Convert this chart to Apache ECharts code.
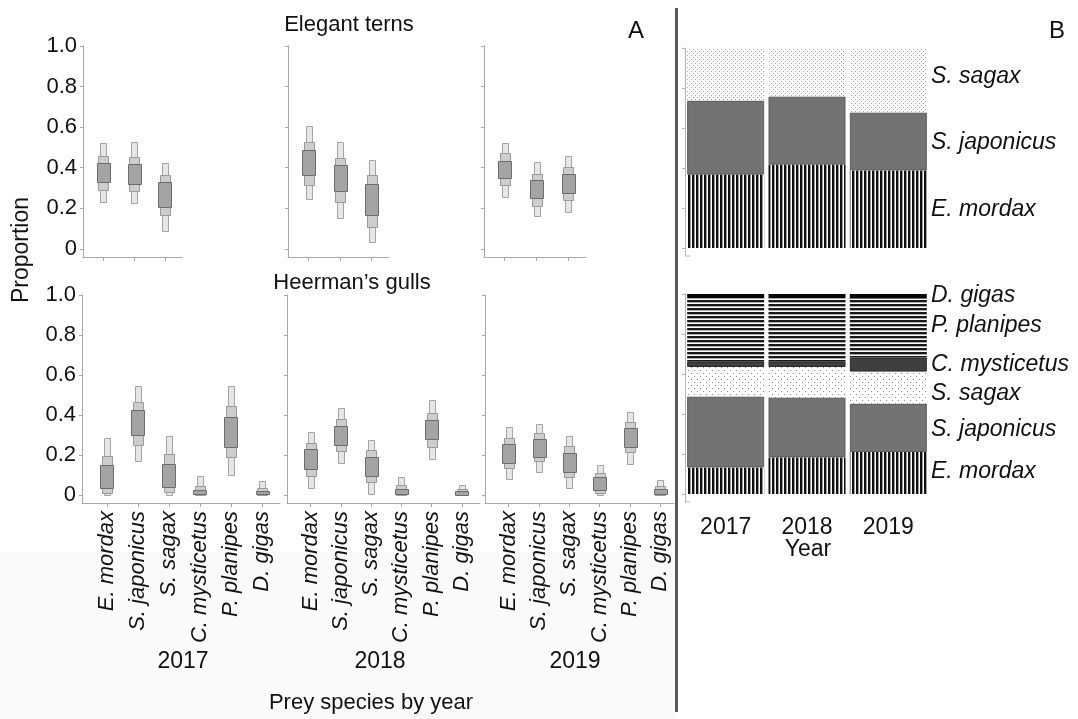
<!DOCTYPE html>
<html><head><meta charset="utf-8">
<script src="https://cdn.jsdelivr.net/npm/echarts@6/dist/echarts.min.js"></script>
<style>html,body{margin:0;padding:0;background:#fff}#c{width:1078px;height:719px}</style>
</head><body><div id="c"></div>
<script>
// ---------- DATA ----------
const years = ['2017', '2018', '2019'];
const ternSpecies = ['E. mordax', 'S. japonicus', 'S. sagax'];
const gullSpecies = ['E. mordax', 'S. japonicus', 'S. sagax', 'C. mysticetus', 'P. planipes', 'D. gigas'];
const yTicks = [0, 0.2, 0.4, 0.6, 0.8, 1.0];

// Panel A rows: [outerLo, midLo, innerLo, innerHi, midHi, outerHi]
const tern2017 = [[0.23,0.29,0.327,0.423,0.46,0.522],[0.224,0.284,0.317,0.416,0.454,0.526],[0.085,0.167,0.211,0.332,0.366,0.421]];
const tern2018 = [[0.244,0.317,0.362,0.486,0.529,0.605],[0.149,0.232,0.282,0.411,0.449,0.526],[0.03,0.111,0.163,0.318,0.366,0.436]];
const tern2019 = [[0.26,0.314,0.348,0.434,0.471,0.524],[0.163,0.215,0.251,0.341,0.371,0.428],[0.18,0.241,0.273,0.368,0.403,0.456]];
const gull2017 = [[0.0,0.012,0.033,0.148,0.197,0.283],[0.172,0.252,0.298,0.423,0.467,0.545],[0.0,0.012,0.037,0.153,0.203,0.297],[0.0,0.002,0.005,0.025,0.047,0.093],[0.102,0.19,0.242,0.39,0.445,0.545],[0.0,0.002,0.004,0.02,0.037,0.072]];
const gull2018 = [[0.035,0.095,0.132,0.23,0.262,0.313],[0.157,0.22,0.247,0.343,0.378,0.433],[0.008,0.065,0.097,0.192,0.225,0.277],[0.0,0.002,0.006,0.032,0.05,0.092],[0.18,0.237,0.278,0.375,0.408,0.473],[0.0,0.002,0.004,0.022,0.032,0.052]];
const gull2019 = [[0.078,0.136,0.164,0.257,0.285,0.34],[0.116,0.169,0.19,0.28,0.31,0.355],[0.035,0.09,0.116,0.211,0.244,0.295],[0.0,0.008,0.028,0.091,0.108,0.148],[0.154,0.214,0.24,0.333,0.365,0.413],[0.0,0.002,0.004,0.028,0.045,0.075]];

// Panel B proportions by year
const ternDiet = {
  'E. mordax':    [0.367, 0.417, 0.388],
  'S. japonicus': [0.370, 0.341, 0.290],
  'S. sagax':     [0.263, 0.242, 0.322]
};
const gullDiet = {
  'E. mordax':     [0.133, 0.183, 0.210],
  'S. japonicus':  [0.355, 0.300, 0.242],
  'S. sagax':      [0.147, 0.152, 0.160],
  'C. mysticetus': [0.028, 0.028, 0.070],
  'P. planipes':   [0.317, 0.317, 0.295],
  'D. gigas':      [0.020, 0.020, 0.023]
};

// ---------- PATTERNS ----------
function tile(w, h, draw) {
  const c = document.createElement('canvas'); c.width = w; c.height = h;
  const g = c.getContext('2d'); g.fillStyle = '#fff'; g.fillRect(0, 0, w, h); draw(g);
  return { image: c, repeat: 'repeat' };
}
const vStripes = tile(4, 4, g => { g.fillStyle = '#111'; g.fillRect(0, 0, 2, 4); g.fillStyle = '#9a9a9a'; g.fillRect(2, 0, 1, 4); });
const hStripes = tile(4, 4, g => { g.fillStyle = '#1a1a1a'; g.fillRect(0, 0, 4, 2); g.fillStyle = '#aaa'; g.fillRect(0, 2, 4, 1); });
const dotsDense = tile(4, 4, g => { g.fillStyle = '#a0a0a0'; g.fillRect(1, 1, 1, 1); g.fillRect(3, 3, 1, 1); });
const dotsSparse = tile(6, 6, g => { g.fillStyle = '#8a8a8a'; g.fillRect(1, 1, 1, 1); g.fillRect(4, 4, 1, 1); });

const styleMap = {
  'E. mordax':     { color: vStripes },
  'S. japonicus':  { color: '#737373', borderColor: '#5c5c5c', borderWidth: 1 },
  'C. mysticetus': { color: '#3f3f3f', borderColor: '#2a2a2a', borderWidth: 1 },
  'P. planipes':   { color: hStripes },
  'D. gigas':      { color: '#050505' }
};

// ---------- LAYOUT ----------
const FONT = 'Liberation Sans, Arial, sans-serif';
const panelsA = [
  { data: tern2017, names: ternSpecies, left: 83,  top: 46,  width: 99,  height: 211, xmin: -0.65, xmax: 2.55, first: true,  labels: false },
  { data: tern2018, names: ternSpecies, left: 288, top: 46,  width: 101, height: 211, xmin: -0.65, xmax: 2.55, first: false, labels: false },
  { data: tern2019, names: ternSpecies, left: 484, top: 46,  width: 102, height: 211, xmin: -0.65, xmax: 2.55, first: false, labels: false },
  { data: gull2017, names: gullSpecies, left: 82,  top: 295, width: 198, height: 208, xmin: -0.8,  xmax: 5.58, first: true,  labels: true },
  { data: gull2018, names: gullSpecies, left: 287, top: 295, width: 193, height: 208, xmin: -0.78, xmax: 5.6,  first: false, labels: true },
  { data: gull2019, names: gullSpecies, left: 485, top: 295, width: 189, height: 208, xmin: -0.78, xmax: 5.45, first: false, labels: true }
];

const grid = [], xAxis = [], yAxis = [], series = [];
const axisGray = '#a8a8a8';

function renderBox(params, api) {
  const x = api.value(0);
  const v = [1, 2, 3, 4, 5, 6].map(i => api.value(i));
  const rect = (lo, hi, w, fill, stroke) => {
    const pHi = api.coord([x, hi]), pLo = api.coord([x, lo]);
    return { type: 'rect', shape: { x: Math.round(pHi[0] - w / 2) + 0.5, y: Math.round(pHi[1]) + 0.5, width: w, height: Math.max(1, Math.round(pLo[1] - pHi[1])) },
             style: { fill: fill, stroke: stroke, lineWidth: 1 } };
  };
  return { type: 'group', children: [
    rect(v[0], v[5], 6, '#e6e6e6', '#a4a4a4'),
    rect(v[1], v[4], 10, '#cdcdcd', '#9a9a9a'),
    rect(v[2], v[3], 13, '#a4a4a4', '#6c6c6c')
  ] };
}

panelsA.forEach((p, i) => {
  grid.push({ left: p.left, top: p.top, width: p.width, height: p.height, outerBoundsMode: 'none', containLabel: false });
  const idx = p.names.map((_, k) => k);
  xAxis.push({
    type: 'value', gridIndex: i, min: p.xmin, max: p.xmax, splitLine: { show: false },
    axisLine: { show: true, onZero: false, lineStyle: { color: axisGray, width: 1 } },
    axisTick: { show: true, customValues: idx, length: 4, lineStyle: { color: axisGray } },
    axisLabel: { show: p.labels, customValues: idx, formatter: v => p.names[Math.round(v)] || '', rotate: 90, margin: 8,
                 fontFamily: FONT, fontSize: 22, fontStyle: 'italic', color: '#111' }
  });
  yAxis.push({
    type: 'value', gridIndex: i, min: -0.04, max: 1, splitLine: { show: false },
    axisLine: { show: true, onZero: false, lineStyle: { color: axisGray, width: 1 } },
    axisTick: { show: true, customValues: yTicks, length: 3, lineStyle: { color: axisGray } },
    axisLabel: { show: p.first, customValues: yTicks, formatter: v => v === 0 ? '0' : v.toFixed(1), margin: 6,
                 fontFamily: FONT, fontSize: 22, color: '#111' }
  });
  series.push({ type: 'custom', xAxisIndex: i, yAxisIndex: i, renderItem: renderBox,
                data: p.data.map((r, k) => [k].concat(r)), silent: true, animation: false });
});

// Panel B
const panelsB = [
  { diet: ternDiet, top: 48,  height: 208, labels: false, sagax: dotsDense },
  { diet: gullDiet, top: 294, height: 208, labels: true,  sagax: dotsSparse }
];
panelsB.forEach((p, j) => {
  const gi = 6 + j;
  grid.push({ left: 685, top: p.top, width: 244, height: p.height, outerBoundsMode: 'none', containLabel: false });
  xAxis.push({ type: 'category', gridIndex: gi, data: years, axisLine: { show: false }, axisTick: { show: false },
               axisLabel: { show: p.labels, margin: 14, fontFamily: FONT, fontSize: 23, color: '#111' } });
  yAxis.push({ type: 'value', gridIndex: gi, min: -0.04, max: 1, splitLine: { show: false },
               axisLine: { show: true, onZero: false, lineStyle: { color: '#b4b4b4', width: 1 } },
               axisTick: { show: true, customValues: yTicks, length: 3, lineStyle: { color: '#b4b4b4' } },
               axisLabel: { show: false } });
  Object.keys(p.diet).forEach(name => {
    const st = name === 'S. sagax' ? { color: p.sagax } : styleMap[name];
    series.push({ type: 'bar', name: name, xAxisIndex: gi, yAxisIndex: gi, stack: 'b' + j, barWidth: 77,
                  data: p.diet[name], itemStyle: st, silent: true, animation: false });
  });
});

// ---------- TEXT ----------
const txt = (text, x, y, opt) => Object.assign({ type: 'text', x: x, y: y,
  style: Object.assign({ text: text, fill: '#111', font: '22px ' + FONT, textAlign: 'center', textVerticalAlign: 'middle' }, opt || {}) });
const itl = 'italic 23px ' + FONT;
const graphic = [
  { type: 'rect', shape: { x: 0, y: 552, width: 676, height: 167 }, style: { fill: '#fafafa' }, z: -10 },
  { type: 'rect', shape: { x: 675, y: 8, width: 3, height: 704 }, style: { fill: '#595959' } },
  { type: 'polyline', shape: { points: [[685.5, 494], [685.5, 502], [690, 502]] }, style: { stroke: '#b4b4b4', lineWidth: 1, fill: null } },
  { type: 'polyline', shape: { points: [[685.5, 248], [685.5, 256], [690, 256]] }, style: { stroke: '#b4b4b4', lineWidth: 1, fill: null } },
  txt('Elegant terns', 349, 25),
  txt('Heerman\u2019s gulls', 352, 283),
  txt('A', 636, 31, { font: '24px ' + FONT }),
  txt('B', 1057, 31, { font: '24px ' + FONT }),
  Object.assign(txt('Proportion', 0, 0, { font: '23px ' + FONT }), { x: 22, y: 250, rotation: Math.PI / 2 }),
  txt('2017', 183, 662, { font: '23px ' + FONT }),
  txt('2018', 380, 662, { font: '23px ' + FONT }),
  txt('2019', 575, 662, { font: '23px ' + FONT }),
  txt('Prey species by year', 371, 703),
  txt('Year', 808, 550, { font: '23px ' + FONT }),
  txt('S. sagax', 931, 77, { textAlign: 'left', font: itl }),
  txt('S. japonicus', 931, 143, { textAlign: 'left', font: itl }),
  txt('E. mordax', 931, 210, { textAlign: 'left', font: itl }),
  txt('D. gigas', 931, 296, { textAlign: 'left', font: itl }),
  txt('P. planipes', 931, 326, { textAlign: 'left', font: itl }),
  txt('C. mysticetus', 931, 365, { textAlign: 'left', font: itl }),
  txt('S. sagax', 931, 394, { textAlign: 'left', font: itl }),
  txt('S. japonicus', 931, 430, { textAlign: 'left', font: itl }),
  txt('E. mordax', 931, 472, { textAlign: 'left', font: itl })
];

const chart = echarts.init(document.getElementById('c'), null, { renderer: 'canvas' });
chart.setOption({ backgroundColor: '#fff', animation: false, grid, xAxis, yAxis, series, graphic });
</script></body></html>
